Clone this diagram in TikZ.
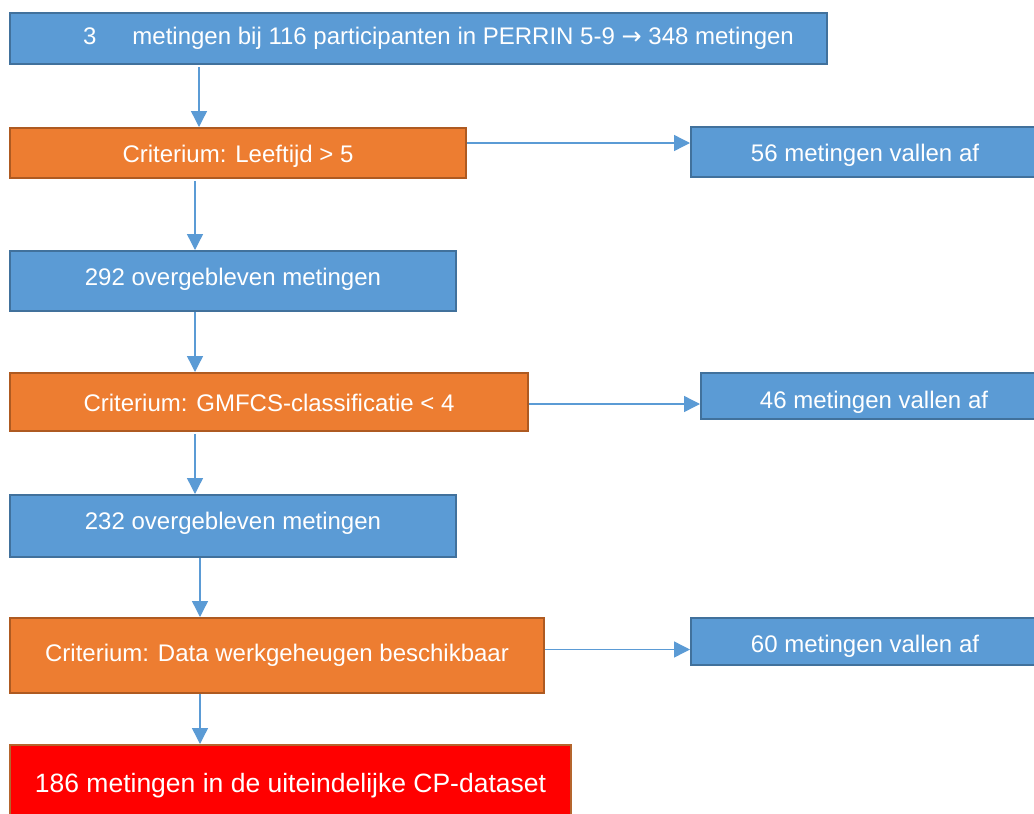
\documentclass[tikz,border=0pt]{standalone}
\usepackage{fontspec}
\setmainfont{Liberation Sans}
\newfontfamily\dejavu{DejaVu Sans}
\usetikzlibrary{arrows.meta,positioning}
\definecolor{bfill}{HTML}{5B9BD5}
\definecolor{bdraw}{HTML}{41719C}
\definecolor{ofill}{HTML}{ED7D31}
\definecolor{odraw}{HTML}{AE5A21}
\definecolor{rfill}{HTML}{FF0000}
\definecolor{rdraw}{HTML}{B5652D}
\definecolor{conncol}{HTML}{5B9BD5}
\newcommand{\mvtext}[2]{\raisebox{#1}[\height][\depth]{#2}}
\begin{document}
\begin{tikzpicture}[x=1pt,y=-1pt,
  box/.style={draw, line width=2pt, anchor=north west, inner sep=0pt, text=white,
    font=\fontsize{24}{28}\selectfont},
  bluebox/.style={box, fill=bfill, draw=bdraw},
  orangebox/.style={box, fill=ofill, draw=odraw},
  redbox/.style={box, fill=rfill, draw=rdraw, font=\fontsize{26.5}{30}\selectfont},
  conn/.style={draw=conncol, line width=1.4pt, -{Triangle[length=16pt,width=16pt]}}]
\useasboundingbox (0,0) rectangle (1034,814);
\fill[white] (0,0) rectangle (1034,814);

\node[bluebox, minimum width=817pt, minimum height=51pt] (b1) at (9,12)
  {\hspace*{40pt}3\hspace{36pt}metingen bij 116 participanten in PERRIN 5-9 {\dejavu →} 348 metingen};
\node[orangebox, minimum width=456pt, minimum height=50pt] (b2) at (9,127)
  {\mvtext{-3pt}{Criterium: Leeftijd > 5}};
\node[bluebox, minimum width=348pt, minimum height=50pt] (d1) at (690,126)
  {\mvtext{-3pt}{56 metingen vallen af}};
\node[bluebox, minimum width=446pt, minimum height=60pt] (b3) at (9,250)
  {\mvtext{2pt}{292 overgebleven metingen}};
\node[bluebox, minimum width=518pt, minimum height=58pt, orangebox] (b4) at (9,372)
  {\mvtext{-1pt}{Criterium: GMFCS-classificatie < 4}};
\node[bluebox, minimum width=346pt, minimum height=46pt] (d2) at (700,372)
  {\mvtext{-6pt}{46 metingen vallen af}};
\node[bluebox, minimum width=446pt, minimum height=62pt] (b5) at (9,494)
  {\mvtext{3pt}{232 overgebleven metingen}};
\node[orangebox, minimum width=534pt, minimum height=75pt] (b6) at (9,617)
  {Criterium: Data werkgeheugen beschikbaar};
\node[bluebox, minimum width=348pt, minimum height=47pt] (d3) at (690,617)
  {\mvtext{-5pt}{60 metingen vallen af}};
\node[redbox, minimum width=561pt, minimum height=80pt] (b7) at (9,744)
  {\mvtext{-1pt}{186 metingen in de uiteindelijke CP-dataset}};

\draw[conn] ([xshift=190pt,yshift=-2pt]b1.south west) -- ([xshift=190pt]b2.north west);
\draw[conn] ([xshift=186pt,yshift=-2pt]b2.south west) -- ([xshift=186pt]b3.north west);
\draw[conn] ([xshift=186pt]b3.south west) -- ([xshift=186pt]b4.north west);
\draw[conn] ([xshift=186pt,yshift=-2pt]b4.south west) -- ([xshift=186pt]b5.north west);
\draw[conn] ([xshift=191pt]b5.south west) -- ([xshift=191pt]b6.north west);
\draw[conn] ([xshift=191pt]b6.south west) -- ([xshift=191pt]b7.north west);

\draw[conn] ([yshift=10pt]b2.east) -- ([yshift=10pt]b2.east -| d1.west);
\draw[conn] ([yshift=-2pt]b4.east) -- ([yshift=-2pt]b4.east -| d2.west);
\draw[conn] ([yshift=6pt]b6.east) -- ([yshift=6pt]b6.east -| d3.west);
\end{tikzpicture}
\end{document}
